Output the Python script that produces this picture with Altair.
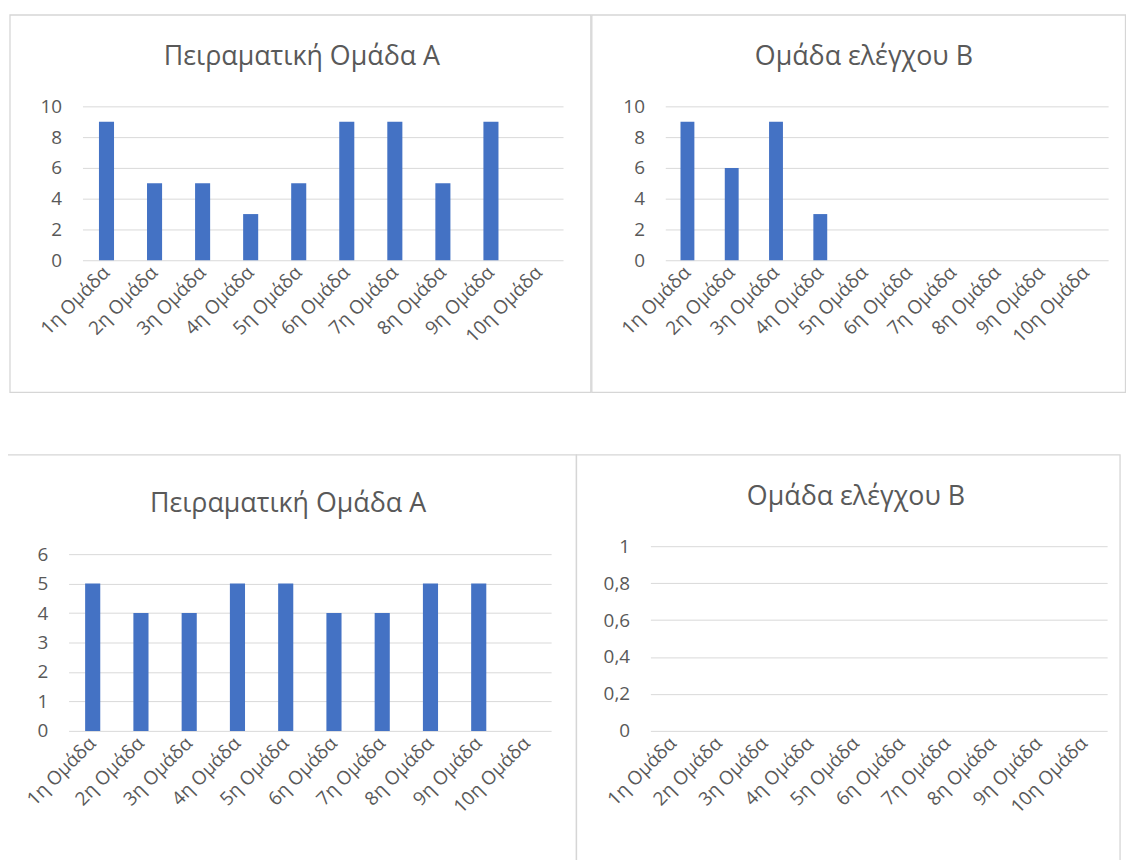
import altair as alt
import pandas as pd

# ---- data ----
categories = ["1η Ομάδα", "2η Ομάδα", "3η Ομάδα", "4η Ομάδα", "5η Ομάδα",
              "6η Ομάδα", "7η Ομάδα", "8η Ομάδα", "9η Ομάδα", "10η Ομάδα"]
values_a_top = [9, 5, 5, 3, 5, 9, 9, 5, 9, 0]
values_b_top = [9, 6, 9, 3, 0, 0, 0, 0, 0, 0]
values_a_bottom = [5, 4, 4, 5, 5, 4, 4, 5, 5, 0]
values_b_bottom = [0, 0, 0, 0, 0, 0, 0, 0, 0, 0]
titles = ["Πειραματική Ομάδα Α", "Ομάδα ελέγχου Β", "Πειραματική Ομάδα Α", "Ομάδα ελέγχου Β"]
ticks_a_top = [0, 2, 4, 6, 8, 10]
ticks_b_top = [0, 2, 4, 6, 8, 10]
ticks_a_bottom = [0, 1, 2, 3, 4, 5, 6]
ticks_b_bottom = [0, 0.2, 0.4, 0.6, 0.8, 1]

# ---- style ----
W, H = 1126, 852
FONT = "Open Sans"
LABEL = "#595959"
GRID = "#d9d9d9"
BORDER = "#d6d6d6"
BLUE = "#4472c4"
PAD_IN = 0.6865


def panel(values, ticks, xr, yr, comma=False):
    df = pd.DataFrame({"cat": categories, "val": values})
    lab_expr = "replace(format(datum.value, '~g'), '.', ',')" if comma else "format(datum.value, '~g')"
    y_axis = alt.Axis(values=ticks, orient="left", offset=-xr[0], grid=True,
                      gridColor=GRID, gridWidth=1, domain=False, ticks=False, tickSize=0,
                      labelPadding=21, labelFont=FONT, labelFontSize=19, labelColor=LABEL,
                      labelExpr=lab_expr, title=None)
    x_axis = alt.Axis(orient="bottom", offset=-(H - yr[0]), labelAngle=-45,
                      labelAlign="right", labelBaseline="middle", labelOverlap=False,
                      domain=False, ticks=False, tickSize=0, grid=False, labelPadding=9,
                      labelFont=FONT, labelFontSize=19, labelColor=LABEL, title=None)
    return alt.Chart(df).mark_bar(color=BLUE).encode(
        x=alt.X("cat:N", sort=categories,
                scale=alt.Scale(range=list(xr), paddingInner=PAD_IN, paddingOuter=PAD_IN / 2),
                axis=x_axis),
        y=alt.Y("val:Q", scale=alt.Scale(domain=[0, ticks[-1]], range=list(yr), nice=False),
                axis=y_axis),
    )


def frame(x1, x2, y1, y2):
    return alt.Chart(pd.DataFrame({"t": [""]})).mark_rect(
        filled=False, stroke=BORDER, strokeWidth=1.3
    ).encode(x=alt.value(x1), x2=alt.value(x2), y=alt.value(y1), y2=alt.value(y2))


def title(text, x, y):
    return alt.Chart(pd.DataFrame({"t": [text]})).mark_text(
        font=FONT, fontSize=27, color=LABEL, align="center", baseline="middle"
    ).encode(x=alt.value(x), y=alt.value(y), text="t:N")


layers = [
    frame(2, 587, 4, 384),
    frame(588, 1125.5, 4, 384),
    frame(-6, 572.5, 447, 900),
    frame(572.5, 1120, 447, 900),
    title(titles[0], 296, 46),
    title(titles[1], 862, 46),
    title(titles[2], 282, 497),
    title(titles[3], 854, 490),
    panel(values_a_top, ticks_a_top, (75, 559), (251, 96)),
    panel(values_b_top, ticks_b_top, (662, 1108), (251, 96)),
    panel(values_a_bottom, ticks_a_bottom, (61, 547), (725, 547)),
    panel(values_b_bottom, ticks_b_bottom, (647, 1107), (725, 539), comma=True),
]

chart = alt.layer(*layers).resolve_scale(x="independent", y="independent").resolve_axis(
    x="independent", y="independent"
).properties(
    width=W, height=H, autosize=alt.AutoSizeParams(type="none"), padding=0
).configure_view(stroke=None)

chart.save("out.html", embed_options={"renderer": "svg", "actions": False})
